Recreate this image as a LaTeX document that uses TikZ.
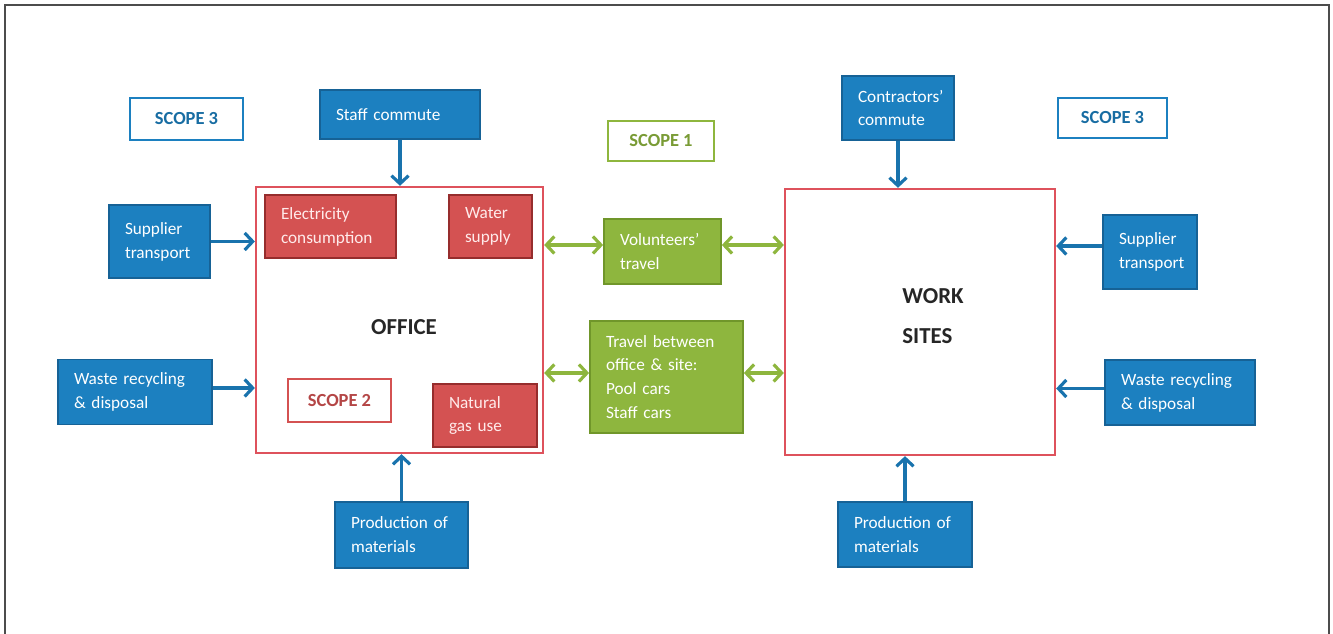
\documentclass[tikz,border=0pt]{standalone}
\usepackage{fontspec}
\setmainfont{Carlito}
\usepackage{tikz}
\usetikzlibrary{arrows.meta}
\usepackage{xcolor}
\definecolor{bluefill}{RGB}{28,128,192}
\definecolor{blueline}{RGB}{22,98,150}
\definecolor{redfill}{RGB}{212,82,82}
\definecolor{redline}{RGB}{150,45,45}
\definecolor{greenfill}{RGB}{142,182,62}
\definecolor{greenline}{RGB}{112,150,42}
\definecolor{officered}{RGB}{222,82,92}

\begin{document}
\begin{tikzpicture}[
  every node/.style={font=\fontsize{9.8}{13.6}\selectfont},
  bluebox/.style={draw=blueline, line width=1pt, fill=bluefill, text=white, align=left, inner xsep=0.32cm},
  redbox/.style={draw=redline, line width=1pt, fill=redfill, text=red!8, align=left, inner xsep=0.32cm},
  greenbox/.style={draw=greenline, line width=1pt, fill=greenfill, text=white, align=left, inner xsep=0.32cm},
  scopebox/.style={draw=#1, line width=1.6pt, fill=white, text=#1!85!black, font=\fontsize{10.5}{12}\bfseries\selectfont},
  bigbox/.style={draw=officered, line width=1.3pt},
  bluearrow/.style={draw=bluefill!90!black, line width=1.8pt, -{Straight Barb[length=1.6mm,width=3.4mm]}},
  greenarrow/.style={draw=greenfill, line width=1.8pt, {Straight Barb[length=1.6mm,width=3.4mm]}-{Straight Barb[length=1.6mm,width=3.4mm]}}
]
\useasboundingbox (0,0) rectangle (26.66,12.68);
\draw [black!70, line width=1pt] (0.1,0) -- (0.1,12.58) -- (26.58,12.58) -- (26.58,0);

\node (v1) at (3.73,10.30) [scopebox=bluefill, minimum width=2.26cm, minimum height=0.84cm] {SCOPE 3};
\node (v2) at (8.00,10.39) [bluebox, text width=2.56cm, minimum height=0.98cm] {Staff commute};
\node (v3) at (13.22,9.86) [scopebox=greenfill, minimum width=2.12cm, minimum height=0.80cm] {SCOPE 1};
\node (v4) at (17.96,10.52) [bluebox, text width=1.60cm, minimum height=1.28cm] {Contractors'\\commute};
\node (v5) at (22.25,10.32) [scopebox=bluefill, minimum width=2.18cm, minimum height=0.80cm] {SCOPE 3};
\node (v6) at (3.19,7.85) [bluebox, text width=1.38cm, minimum height=1.46cm] {Supplier\\transport};
\node (v7) at (7.99,6.28) [bigbox, minimum width=5.74cm, minimum height=5.32cm] {};
\node (v8) at (6.61,8.15) [redbox, text width=1.98cm, minimum height=1.26cm] {Electricity\\consumption};
\node (v9) at (9.81,8.15) [redbox, text width=1.02cm, minimum height=1.26cm] {Water\\supply};
\node (v10) at (13.25,7.65) [greenbox, text width=1.70cm, minimum height=1.30cm] {Volunteers'\\travel};
\node (v11) at (18.40,6.24) [bigbox, minimum width=5.40cm, minimum height=5.32cm] {};
\node (v12) at (23.00,7.64) [bluebox, text width=1.24cm, minimum height=1.48cm] {Supplier\\transport};
\node (v13) at (8.08,6.14) [font=\fontsize{13}{15}\bfseries\selectfont, text=black!85] {OFFICE};
\node (v14) at (13.33,5.14) [greenbox, text width=2.42cm, minimum height=2.24cm] {Travel between\\office \& site:\\Pool cars\\Staff cars};
\node (v15) at (18.66,6.36) [font=\fontsize{13}{23}\bfseries\selectfont, text=black!85, align=left] {WORK\\SITES};
\node (v16) at (2.70,4.84) [bluebox, text width=2.44cm, minimum height=1.30cm] {Waste recycling\\\& disposal};
\node (v17) at (6.79,4.67) [scopebox=redfill, minimum width=2.06cm, minimum height=0.86cm] {SCOPE 2};
\node (v18) at (9.70,4.37) [redbox, text width=1.44cm, minimum height=1.26cm] {Natural\\gas use};
\node (v19) at (23.60,4.83) [bluebox, text width=2.36cm, minimum height=1.30cm] {Waste recycling\\\& disposal};
\node (v20) at (8.03,1.98) [bluebox, text width=2.02cm, minimum height=1.32cm] {Production of\\materials};
\node (v21) at (18.10,1.99) [bluebox, text width=2.04cm, minimum height=1.30cm] {Production of\\materials};

\draw [bluearrow] (v2.south) -- (v2.south |- v7.north);
\draw [bluearrow] (v4.south) -- (v4.south |- v11.north);
\draw [bluearrow] (v6.east) -- (v6.east -| v7.west);
\draw [bluearrow] ([yshift=0.08cm]v16.east) -- ([yshift=0.08cm]v16.east -| v7.west);
\draw [bluearrow] (v20.north) -- (v20.north |- v7.south);
\draw [bluearrow] (v21.north) -- (v21.north |- v11.south);
\draw [bluearrow] ([yshift=0.12cm]v12.west) -- ([yshift=0.12cm]v12.west -| v11.east);
\draw [bluearrow] ([yshift=0.08cm]v19.west) -- ([yshift=0.08cm]v19.west -| v11.east);
\draw [greenarrow] ([yshift=0.13cm]v10.west -| v7.east) -- ([yshift=0.13cm]v10.west);
\draw [greenarrow] ([yshift=0.13cm]v10.east) -- ([yshift=0.13cm]v10.east -| v11.west);
\draw [greenarrow] ([yshift=0.08cm]v14.west -| v7.east) -- ([yshift=0.08cm]v14.west);
\draw [greenarrow] ([yshift=0.08cm]v14.east) -- ([yshift=0.08cm]v14.east -| v11.west);
\end{tikzpicture}
\end{document}
